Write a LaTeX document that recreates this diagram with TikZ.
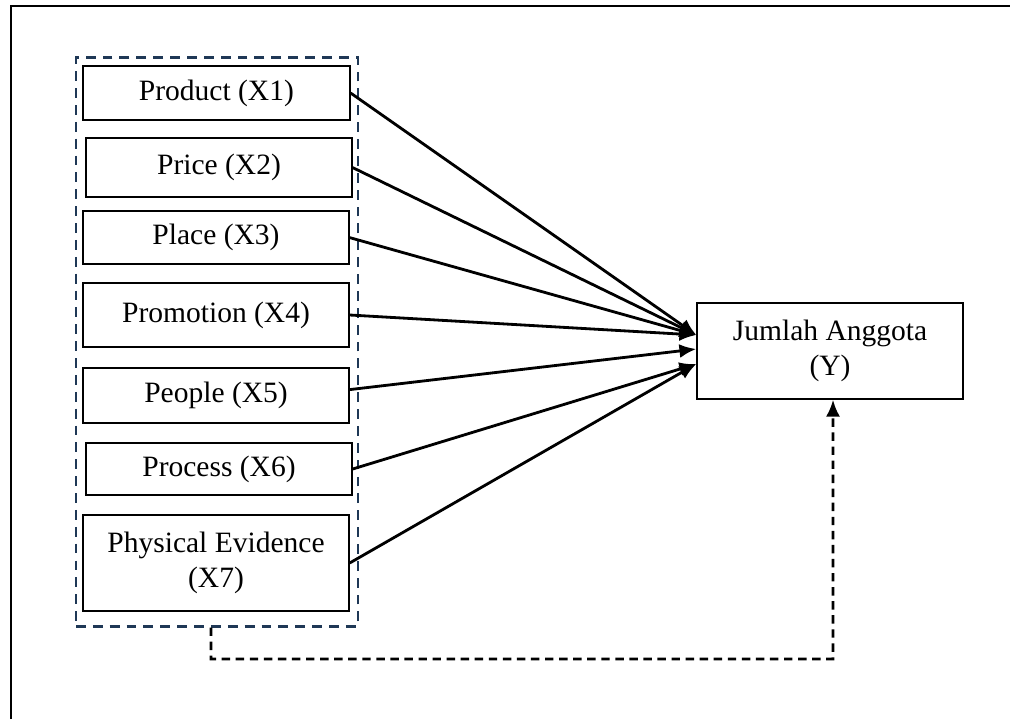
\documentclass[tikz,border=0pt]{standalone}
\usepackage{fontspec}
\setmainfont{Liberation Serif}
\usepackage{xcolor}
\usepackage{tikz}
\usetikzlibrary{positioning,arrows.meta}
\definecolor{groupblue}{RGB}{31,56,86}
\tikzset{
	var/.style={draw, line width=1pt, align=center, inner sep=0pt,
		minimum width=6.65cm, font=\fontsize{21}{25}\selectfont},
	grp/.style={draw=groupblue, line width=2pt, dash pattern=on 7pt off 5pt},
	effect/.style={line width=2pt, -{Latex[length=12pt,width=10pt]}},
	mediate/.style={effect, dash pattern=on 6pt off 4pt},
	frame/.style={line width=2pt}
}

\begin{document}
\begin{tikzpicture}
	\useasboundingbox (0,0) rectangle (25.25,-17.975);
	\draw[frame] (0.275,-17.975) -- (0.275,-0.15) -- (25.25,-0.15);
	\node[grp, minimum width=7.05cm, minimum height=14.225cm] (G) at (5.425,-8.54) {};
	\node[var, minimum width=6.675cm, minimum height=1.35cm] (X1) at (5.41,-2.325) {Product (X1)};
	\node[var, minimum height=1.475cm] (X2) at (5.475,-4.19) {Price (X2)};
	\node[var, minimum height=1.325cm] (X3) at (5.40,-5.94) {Place (X3)};
	\node[var, minimum height=1.6cm] (X4) at (5.40,-7.875) {Promotion (X4)};
	\node[var, minimum height=1.375cm] (X5) at (5.40,-9.89) {People (X5)};
	\node[var, minimum height=1.3cm] (X6) at (5.475,-11.725) {Process (X6)};
	\node[var, minimum height=2.4cm] (X7) at (5.40,-14.075) {Physical Evidence\\(X7)};
	\node[var, minimum height=2.4cm] (Y) at (20.75,-8.775) {Jumlah Anggota\\(Y)};
	\coordinate (turn) at (5.275,-16.475);
	\draw[effect] (X1.east) -- ([yshift=0.4cm]Y.west);
	\draw[effect] (X2.east) -- ([yshift=0.4cm]Y.west);
	\draw[effect] (X3.east) -- ([yshift=0.4cm]Y.west);
	\draw[effect] (X4.east) -- ([yshift=0.4cm]Y.west);
	\draw[effect] ([yshift=0.15cm]X5.east) -- ([yshift=0.05cm]Y.west);
	\draw[effect] (X6.east) -- ([yshift=-0.325cm]Y.west);
	\draw[effect] (X7.east) -- ([yshift=-0.325cm]Y.west);
	\draw[mediate] ([xshift=-0.15cm]G.south) -- (turn) -| ([xshift=0.075cm]Y.south);
\end{tikzpicture}
\end{document}
